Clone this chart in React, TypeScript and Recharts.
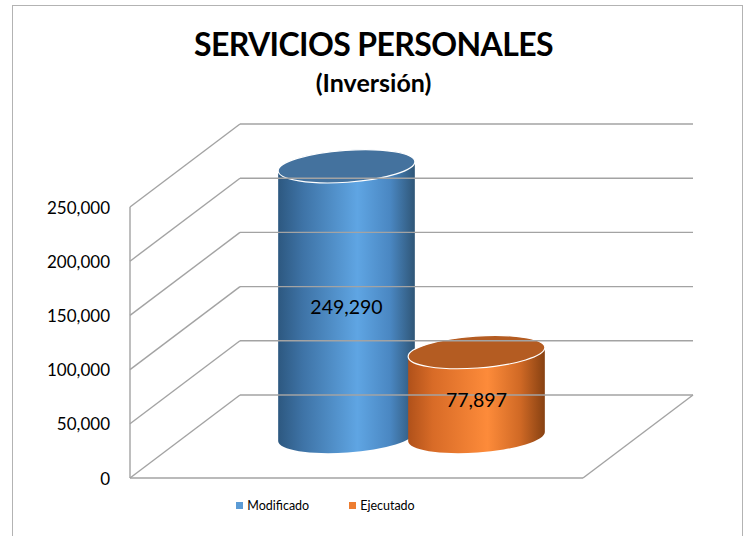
import React from 'react'
import { BarChart, Bar, XAxis, YAxis, LabelList } from 'recharts'

// Datos
const categories = ['Servicios personales']
const seriesNames = ['Modificado', 'Ejecutado']
const modificado = [249290]
const ejecutado = [77897]
const yTicks = [0, 50000, 100000, 150000, 200000, 250000]

const data = categories.map((name, i) => ({
  name,
  [seriesNames[0]]: modificado[i],
  [seriesNames[1]]: ejecutado[i],
}))

// ─── Layout del "3D" ─────────────────────────────────────────────────────────

const W = 747
const H = 536
const FONT = 'Lato, "Open Sans", sans-serif'
const GRID = '#a3a3a3'
// medio fondo del prisma (el plano de las barras queda en el centro)
const DX = 55
const DY = 41.5
const PLOT = { left: 185, right: 638, top: 165.5, bottom: 436.5 }
const TILT = -4
const RY = 16

const PALETTES = {
  blue: {
    id: 'cylBlue',
    legend: '#5b9bd5',
    top: '#44729e',
    stops: ['#2d5880', '#3e73a6', '#5fa5e3', '#4a87c2', '#2f5677'],
  },
  orange: {
    id: 'cylOrange',
    legend: '#ed7d31',
    top: '#b45c22',
    stops: ['#b0511a', '#d86b27', '#fd8b3a', '#d06925', '#874112'],
  },
}
const STOP_AT = [0, 0.18, 0.58, 0.82, 1]

const fmt = (v: number) => v.toLocaleString('en-US')

function GridTick(props: any) {
  const { y, payload } = props
  const fy = y + DY
  const by = y - DY
  const fl = PLOT.left - DX
  const bl = PLOT.left + DX
  const br = PLOT.right + DX
  return (
    <g>
      <line x1={fl} y1={fy} x2={bl} y2={by} stroke={GRID} strokeWidth={1.4} />
      <line x1={bl} y1={by} x2={br} y2={by} stroke={GRID} strokeWidth={1.4} />
      {payload.value === 0 && (
        <g stroke={GRID} strokeWidth={1.4}>
          <line x1={fl} y1={PLOT.top + DY} x2={fl} y2={fy} />
          <line x1={fl} y1={fy} x2={PLOT.right - DX} y2={fy} />
          <line x1={PLOT.right - DX} y1={fy} x2={br} y2={by} />
        </g>
      )}
      <text
        x={110}
        y={fy}
        textAnchor="end"
        dominantBaseline="central"
        fontFamily={FONT}
        fontSize={17}
        fill="#000"
      >
        {fmt(payload.value)}
      </text>
    </g>
  )
}

function Cylinder(props: any) {
  const { x, y, width, height, pal } = props
  if (!width || height == null) return null
  const rx = width / 2
  const cx = x + rx
  const yb = y + height
  const t = (TILT * Math.PI) / 180
  const ox = rx * Math.cos(t)
  const oy = rx * Math.sin(t)
  const body = `M${cx - ox},${y - oy} L${cx - ox},${yb - oy} A${rx},${RY} ${TILT} 0 0 ${cx + ox},${yb + oy} L${cx + ox},${y + oy} Z`
  return (
    <g>
      <defs>
        <linearGradient id={pal.id} x1="0" y1="0" x2="1" y2="0">
          {pal.stops.map((c: string, i: number) => (
            <stop key={i} offset={STOP_AT[i]} stopColor={c} />
          ))}
        </linearGradient>
      </defs>
      <path d={body} fill={`url(#${pal.id})`} />
      <ellipse
        cx={cx}
        cy={y}
        rx={rx}
        ry={RY}
        fill={pal.top}
        stroke="#ffffff"
        strokeWidth={1.2}
        transform={`rotate(${TILT} ${cx} ${y})`}
      />
    </g>
  )
}

function ValueLabel(props: any) {
  const { x, y, width, height, value } = props
  return (
    <text
      x={x + width / 2}
      y={y + height / 2 + 5}
      textAnchor="middle"
      dominantBaseline="central"
      fontFamily={FONT}
      fontSize={19.5}
      fill="#000"
    >
      {fmt(value)}
    </text>
  )
}

export default function App() {
  const pals = [PALETTES.blue, PALETTES.orange]
  return (
    <div style={{ position: 'absolute', left: 0, top: 0, width: W, height: H, background: '#fff', fontFamily: FONT }}>
      {/* marco del área del gráfico */}
      <div
        style={{
          position: 'absolute',
          left: 12,
          top: 5,
          width: 731,
          height: 560,
          border: '1.5px solid #b3b3b3',
          boxSizing: 'border-box',
        }}
      />
      <div style={{ position: 'absolute', left: 0, top: 24, width: W, textAlign: 'center', fontWeight: 700, fontSize: 32, letterSpacing: -0.6, color: '#000', lineHeight: '40px' }}>
        SERVICIOS PERSONALES
      </div>
      <div style={{ position: 'absolute', left: 0, top: 66, width: W, textAlign: 'center', fontWeight: 700, fontSize: 25, color: '#000', lineHeight: '32px' }}>
        (Inversión)
      </div>

      <div style={{ position: 'absolute', left: 0, top: 0 }}>
        <BarChart
          width={W}
          height={H}
          data={data}
          barGap={-7}
          margin={{ top: PLOT.top, right: W - PLOT.right, bottom: H - PLOT.bottom, left: 0 }}
        >
          <XAxis dataKey="name" hide />
          <YAxis
            domain={[0, 250000]}
            ticks={yTicks}
            interval={0}
            width={PLOT.left}
            axisLine={false}
            tickLine={false}
            tick={<GridTick />}
            zIndex={-100}
          />
          {seriesNames.map((s, i) => (
            <Bar
              key={s}
              dataKey={s}
              barSize={137}
              fill={pals[i].legend}
              isAnimationActive={false}
              shape={(p: any) => <Cylinder {...p} pal={pals[i]} />}
            >
              <LabelList dataKey={s} content={<ValueLabel />} />
            </Bar>
          ))}
        </BarChart>
      </div>

      {/* leyenda */}
      <div style={{ position: 'absolute', left: 0, top: 498, width: W, display: 'flex', justifyContent: 'center', gap: 40, fontSize: 12.5, color: '#000', paddingRight: 96, boxSizing: 'border-box' }}>
        {seriesNames.map((s, i) => (
          <span key={s} style={{ display: 'flex', alignItems: 'center', gap: 4 }}>
            <span style={{ width: 7, height: 7, background: pals[i].legend, display: 'inline-block' }} />
            {s}
          </span>
        ))}
      </div>
    </div>
  )
}
